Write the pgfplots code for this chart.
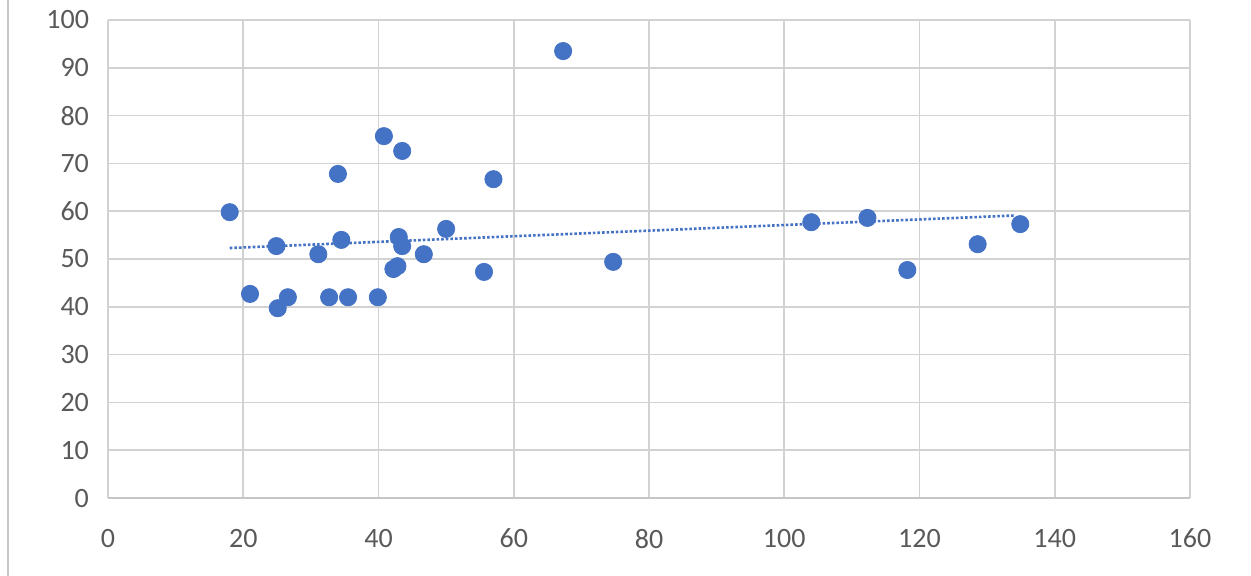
\documentclass[border=0pt]{standalone}
\usepackage{pgfplots}
\pgfplotsset{compat=1.18}
\usetikzlibrary{calc}
\usepackage{fontspec}
\setmainfont{Carlito}
\begin{document}
\begin{tikzpicture}
\definecolor{dotblue}{RGB}{68,114,196}
\begin{axis}[
  scale only axis, width=541pt, height=239pt,
  xmin=0, xmax=160, ymin=0, ymax=100,
  xtick={0,20,...,160}, ytick={0,10,...,100},
  grid=major, major grid style={gray!35, line width=0.8pt},
  axis line style={draw=none},
  axis x line*=bottom, x axis line style={draw=gray!45, line width=0.8pt},
  tick style={draw=none},
  ticklabel style={font=\fontsize{14}{16}\selectfont, text=black!65},
  xticklabel style={yshift=-12pt},
  yticklabel style={xshift=-6pt},
  /pgf/number format/assume math mode=true,
  clip=false,
]
\coordinate (ll) at (rel axis cs:0,0);
\coordinate (ur) at (rel axis cs:1,1);
\addplot[only marks, mark=*, mark size=4.3pt, dotblue] coordinates {
(18.0,59.8)(21.0,42.7)(24.9,52.7)(25.1,39.7)(26.6,42.0)(31.1,51.0)(32.7,42.0)
(34.0,67.8)(34.5,54.0)(35.5,42.0)(39.9,42.0)(40.8,75.7)(42.2,47.9)(42.8,48.5)
(43.0,54.6)(43.5,72.6)(43.5,52.7)(46.7,51.0)(50.0,56.3)(55.6,47.3)(57.0,66.7)
(67.3,93.5)(74.7,49.4)(104.0,57.7)(112.3,58.6)(118.2,47.7)(128.6,53.1)(134.9,57.3)};
\addplot[dotblue, densely dotted, line width=1.3pt] coordinates {(18,52.3)(134,59.1)};
\end{axis}
\useasboundingbox ($(ll)+(-54pt,-38.5pt)$) rectangle ($(ur)+(30.5pt,10pt)$);
\draw[gray!45, line width=0.8pt] ($(ll)+(-50pt,-40pt)$) -- ($(ll)+(-50pt,260pt)$);
\end{tikzpicture}
\end{document}
